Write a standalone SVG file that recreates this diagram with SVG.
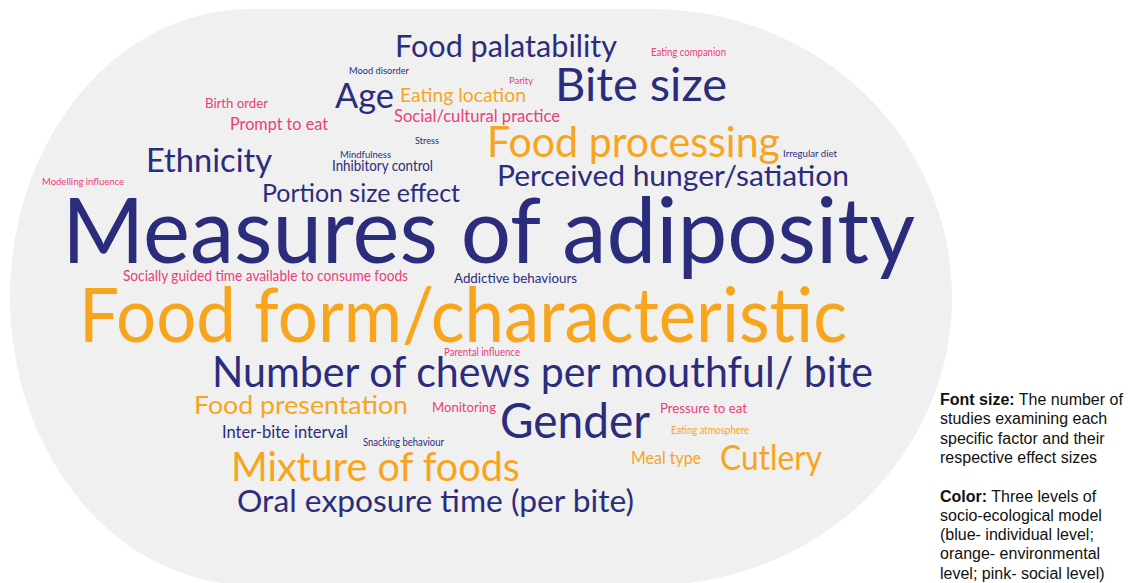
<svg xmlns="http://www.w3.org/2000/svg" width="1131" height="583" viewBox="0 0 1131 583">
<style>
.w{font-family:Lato,"Noto Sans","Open Sans",sans-serif;}
.b{fill:#2b2d7c;}
.o{fill:#f8a51e;}
.p{fill:#e8407a;}
.leg{font-family:"Liberation Sans",Arial,sans-serif;font-size:16px;fill:#111111;}
.bold{font-weight:bold;}
</style>
<rect width="1131" height="583" fill="#ffffff"/>
<path id="cloud-bg" d="M 250 9 L 652 9 A 300 288 0 0 1 652 585 L 250 585 A 240 288 0 0 1 250 9 Z" fill="#f0f0f0"/>
<g id="words" class="w" lengthAdjust="spacingAndGlyphs">
<text class="b" x="395" y="57" font-size="31" textLength="222" lengthAdjust="spacingAndGlyphs">Food palatability</text>
<text class="p" x="651" y="56" font-size="10.7" textLength="75" lengthAdjust="spacingAndGlyphs">Eating companion</text>
<text class="b" x="349" y="74" font-size="10" textLength="60" lengthAdjust="spacingAndGlyphs">Mood disorder</text>
<text class="p" x="509" y="84" font-size="10" textLength="24" lengthAdjust="spacingAndGlyphs">Parity</text>
<text class="b" x="555" y="101" font-size="47" textLength="172" lengthAdjust="spacingAndGlyphs">Bite size</text>
<text class="b" x="335" y="108" font-size="35" textLength="59" lengthAdjust="spacingAndGlyphs">Age</text>
<text class="o" x="400" y="102" font-size="20" textLength="126" lengthAdjust="spacingAndGlyphs">Eating location</text>
<text class="p" x="394" y="122" font-size="17" textLength="166" lengthAdjust="spacingAndGlyphs">Social/cultural practice</text>
<text class="p" x="205" y="108" font-size="14" textLength="63" lengthAdjust="spacingAndGlyphs">Birth order</text>
<text class="p" x="230" y="130" font-size="18" textLength="98" lengthAdjust="spacingAndGlyphs">Prompt to eat</text>
<text class="b" x="415" y="144" font-size="10" textLength="24" lengthAdjust="spacingAndGlyphs">Stress</text>
<text class="o" x="487" y="157" font-size="42" textLength="293" lengthAdjust="spacingAndGlyphs">Food processing</text>
<text class="b" x="783" y="157" font-size="10" textLength="54" lengthAdjust="spacingAndGlyphs">Irregular diet</text>
<text class="b" x="340" y="158" font-size="10" textLength="51" lengthAdjust="spacingAndGlyphs">Mindfulness</text>
<text class="b" x="332" y="171" font-size="15" textLength="101" lengthAdjust="spacingAndGlyphs">Inhibitory control</text>
<text class="b" x="146" y="172" font-size="32" textLength="126" lengthAdjust="spacingAndGlyphs">Ethnicity</text>
<text class="b" x="497" y="186" font-size="29" textLength="352" lengthAdjust="spacingAndGlyphs">Perceived hunger/satiation</text>
<text class="p" x="42" y="185" font-size="10" textLength="82" lengthAdjust="spacingAndGlyphs">Modelling influence</text>
<text class="b" x="262" y="202" font-size="25" textLength="198" lengthAdjust="spacingAndGlyphs">Portion size effect</text>
<text class="b" x="62" y="263" font-size="92" textLength="853" lengthAdjust="spacingAndGlyphs">Measures of adiposity</text>
<text class="p" x="123" y="281" font-size="15" textLength="285" lengthAdjust="spacingAndGlyphs">Socially guided time available to consume foods</text>
<text class="b" x="454" y="283" font-size="14" textLength="123" lengthAdjust="spacingAndGlyphs">Addictive behaviours</text>
<text class="o" x="79" y="342" font-size="75" textLength="768" lengthAdjust="spacingAndGlyphs">Food form/characteristic</text>
<text class="p" x="444" y="356" font-size="10.5" textLength="76" lengthAdjust="spacingAndGlyphs">Parental influence</text>
<text class="b" x="212" y="387" font-size="43" textLength="661" lengthAdjust="spacingAndGlyphs">Number of chews per mouthful/ bite</text>
<text class="o" x="194" y="414" font-size="25" textLength="214" lengthAdjust="spacingAndGlyphs">Food presentation</text>
<text class="p" x="432" y="412" font-size="14" textLength="64" lengthAdjust="spacingAndGlyphs">Monitoring</text>
<text class="b" x="500" y="438" font-size="49" textLength="150" lengthAdjust="spacingAndGlyphs">Gender</text>
<text class="p" x="660" y="413" font-size="14" textLength="87" lengthAdjust="spacingAndGlyphs">Pressure to eat</text>
<text class="o" x="671" y="434" font-size="10.5" textLength="78" lengthAdjust="spacingAndGlyphs">Eating atmosphere</text>
<text class="b" x="222" y="438" font-size="17" textLength="126" lengthAdjust="spacingAndGlyphs">Inter-bite interval</text>
<text class="b" x="363" y="446" font-size="10.5" textLength="81" lengthAdjust="spacingAndGlyphs">Snacking behaviour</text>
<text class="o" x="231" y="481" font-size="40" textLength="289" lengthAdjust="spacingAndGlyphs">Mixture of foods</text>
<text class="o" x="631" y="464" font-size="17" textLength="70" lengthAdjust="spacingAndGlyphs">Meal type</text>
<text class="o" x="720" y="470" font-size="34" textLength="102" lengthAdjust="spacingAndGlyphs">Cutlery</text>
<text class="b" x="237" y="512" font-size="31" textLength="397" lengthAdjust="spacingAndGlyphs">Oral exposure time (per bite)</text>
</g>
<g id="legend" class="leg">
<text x="940" y="405"><tspan class="bold">Font size:</tspan> The number of</text>
<text x="940" y="424.3">studies examining each</text>
<text x="940" y="443.6">specific factor and their</text>
<text x="940" y="462.9">respective effect sizes</text>
<text x="940" y="501.5"><tspan class="bold">Color:</tspan> Three levels of</text>
<text x="940" y="520.8">socio-ecological model</text>
<text x="940" y="540.1">(blue- individual level;</text>
<text x="940" y="559.4">orange- environmental</text>
<text x="940" y="578.7">level; pink- social level)</text>
</g>
</svg>
